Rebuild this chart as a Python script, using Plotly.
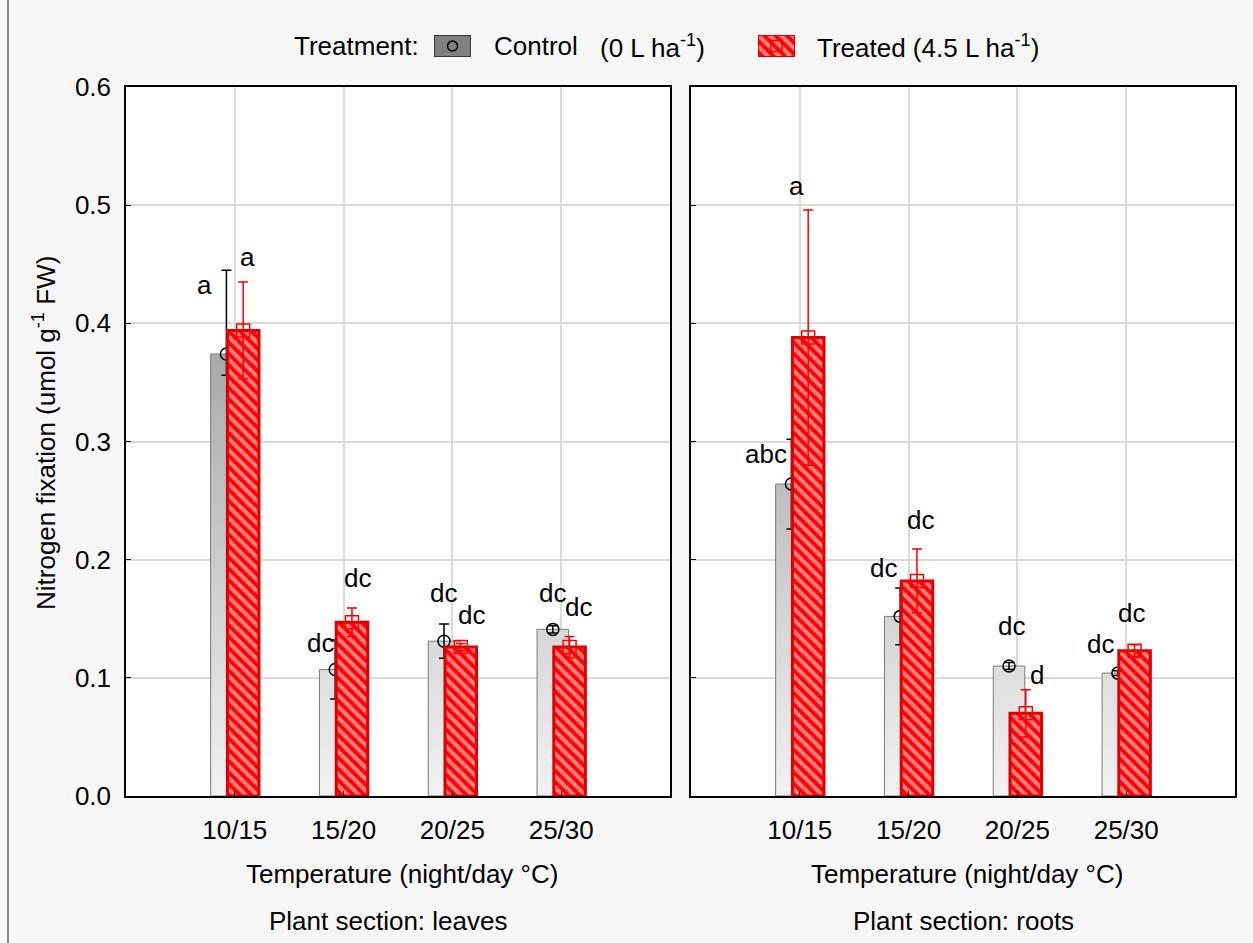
import plotly.graph_objects as go

# ---- data -------------------------------------------------------------
categories = ["10/15", "15/20", "20/25", "25/30"]

leaves_control = [0.374, 0.107, 0.131, 0.141]
leaves_control_err_up = [0.071, 0.025, 0.0145, 0.003]
leaves_control_err_dn = [0.018, 0.025, 0.0145, 0.003]
leaves_treated = [0.394, 0.147, 0.126, 0.126]
leaves_treated_err = [0.041, 0.012, 0.003, 0.009]

roots_control = [0.264, 0.152, 0.110, 0.104]
roots_control_err = [0.038, 0.024, 0.003, 0.002]
roots_treated = [0.388, 0.182, 0.070, 0.123]
roots_treated_err = [0.108, 0.027, 0.020, 0.005]

leaves_control_letters = ["a", "dc", "dc", "dc"]
leaves_treated_letters = ["a", "dc", "dc", "dc"]
roots_control_letters = ["abc", "dc", "dc", "dc"]
roots_treated_letters = ["a", "dc", "d", "dc"]

y_ticks = [0.0, 0.1, 0.2, 0.3, 0.4, 0.5, 0.6]

# ---- layout constants ---------------------------------------------------
W, H = 1253, 943
FONT = "Liberation Sans, Arial, sans-serif"
FS = 26
BAR_HALF = 0.145       # half bar width (category units)
SHIFT = 0.077          # offset of each series from the category centre
RED = "#ff0000"
RED_EDGE = "#dd0000"
HATCH = dict(shape="\\", fgcolor="white", bgcolor=RED, size=8, solidity=0.52)

# pixel nudges for the letter labels (dx, dy), relative to the top of each error bar
leaves_control_lbl = [(-22, -15), (-15, -3), (-1, 31), (0, 33)]
leaves_treated_lbl = [(4, 25), (6, 30), (11, 29), (9, 29)]
roots_control_lbl = [(-25, -15), (-17, 20), (2, 36), (-17, 27)]
roots_treated_lbl = [(-12, 24), (4, 29), (11, 15), (-3, 32)]


def px_x(p):
    return p / W


def px_y(p):
    return 1 - p / H


def bar_outline(centres, heights):
    xs, ys = [], []
    for c, h in zip(centres, heights):
        xs += [c - BAR_HALF, c - BAR_HALF, c + BAR_HALF, c + BAR_HALF, c - BAR_HALF, None]
        ys += [0, h, h, 0, 0, None]
    return xs, ys


pos = list(range(1, len(categories) + 1))
ctrl_x = [p - SHIFT for p in pos]
trt_x = [p + SHIFT for p in pos]

fig = go.Figure()
annotations = []


def add_panel(xa, ya, ctrl, ctrl_up, ctrl_dn, trt, trt_err,
              ctrl_txt, trt_txt, ctrl_lbl, trt_lbl):
    # control bars with a vertical grey gradient
    bx, by = bar_outline(ctrl_x, ctrl)
    fig.add_trace(go.Scatter(
        x=bx, y=by, xaxis=xa, yaxis=ya, mode="lines", fill="toself",
        line=dict(color="#7a7a7a", width=1),
        fillgradient=dict(type="vertical", start=0, stop=0.6,
                          colorscale=[[0, "#f2f2f2"], [1, "#7d7d7d"]]),
        hoverinfo="skip"))
    fig.add_trace(go.Scatter(
        x=ctrl_x, y=ctrl, xaxis=xa, yaxis=ya, mode="markers",
        marker=dict(symbol="circle-open", size=12, color="black",
                    line=dict(width=1.5, color="black")),
        error_y=dict(type="data", symmetric=False, array=ctrl_up,
                     arrayminus=ctrl_dn, color="black", thickness=1.5, width=5)))
    # treated bars with red hatching
    tx, ty = bar_outline(trt_x, trt)
    fig.add_trace(go.Scatter(
        x=tx, y=ty, xaxis=xa, yaxis=ya, mode="lines", fill="toself",
        line=dict(color=RED_EDGE, width=3),
        fillcolor=RED, fillpattern=HATCH,
        hoverinfo="skip"))
    fig.add_trace(go.Scatter(
        x=trt_x, y=trt, xaxis=xa, yaxis=ya, mode="markers",
        marker=dict(symbol="square-open", size=13, color=RED,
                    line=dict(width=1.5, color=RED)),
        error_y=dict(type="data", array=trt_err, color=RED,
                     thickness=1.5, width=5)))

    for i in range(len(categories)):
        annotations.append(dict(
            x=ctrl_x[i], y=ctrl[i] + ctrl_up[i], xref=xa, yref=ya,
            text=ctrl_txt[i], showarrow=False, xanchor="center", yanchor="middle",
            xshift=ctrl_lbl[i][0], yshift=ctrl_lbl[i][1],
            font=dict(family=FONT, size=FS, color="black")))
        annotations.append(dict(
            x=trt_x[i], y=trt[i] + trt_err[i], xref=xa, yref=ya,
            text=trt_txt[i], showarrow=False, xanchor="center", yanchor="middle",
            xshift=trt_lbl[i][0], yshift=trt_lbl[i][1],
            font=dict(family=FONT, size=FS, color="black")))


add_panel("x", "y", leaves_control, leaves_control_err_up, leaves_control_err_dn,
          leaves_treated, leaves_treated_err,
          leaves_control_letters, leaves_treated_letters,
          leaves_control_lbl, leaves_treated_lbl)
add_panel("x2", "y2", roots_control, roots_control_err, roots_control_err,
          roots_treated, roots_treated_err,
          roots_control_letters, roots_treated_letters,
          roots_control_lbl, roots_treated_lbl)

# ---- legend keys, drawn on two small hidden axes --------------------------
key_x = [0, 0, 1, 1, 0]
key_y = [0, 1, 1, 0, 0]
fig.add_trace(go.Scatter(
    x=key_x, y=key_y, xaxis="x3", yaxis="y3", mode="lines", fill="toself",
    fillcolor="#808080", line=dict(color="#3a3a3a", width=2), hoverinfo="skip"))
fig.add_trace(go.Scatter(
    x=[0.5], y=[0.5], xaxis="x3", yaxis="y3", mode="markers",
    marker=dict(symbol="circle-open", size=10, color="black",
                line=dict(width=1.5, color="black")), hoverinfo="skip"))
fig.add_trace(go.Scatter(
    x=key_x, y=key_y, xaxis="x4", yaxis="y4", mode="lines", fill="toself",
    fillcolor=RED, line=dict(color=RED_EDGE, width=2), fillpattern=HATCH,
    hoverinfo="skip"))
fig.add_trace(go.Scatter(
    x=[0.5], y=[0.5], xaxis="x4", yaxis="y4", mode="markers",
    marker=dict(symbol="square-open", size=11, color=RED,
                line=dict(width=1.5, color=RED)), hoverinfo="skip"))

# ---- axes ---------------------------------------------------------------
plot_dom_y = [px_y(796), px_y(87)]
common_x = dict(range=[0, 5], tickvals=pos, ticktext=categories,
                showgrid=True, gridcolor="#dadada", gridwidth=1.5,
                ticks="inside", ticklen=5, tickcolor="black", tickwidth=1.2,
                showline=True, mirror=True, linecolor="black", linewidth=1.5,
                zeroline=False, automargin=False, ticklabelstandoff=10,
                tickfont=dict(family=FONT, size=FS, color="black"))
common_y = dict(range=[0, 0.6], tickvals=y_ticks, tickformat=".1f",
                showgrid=True, gridcolor="#dadada", gridwidth=1.5,
                ticks="inside", ticklen=5, tickcolor="black", tickwidth=1.2,
                showline=True, mirror=True, linecolor="black", linewidth=1.5,
                zeroline=False, automargin=False, domain=plot_dom_y,
                tickfont=dict(family=FONT, size=FS, color="black"))

hidden = dict(visible=False, range=[0, 1], fixedrange=True, automargin=False)

fig.update_layout(
    width=W, height=H, autosize=False,
    margin=dict(l=0, r=0, t=0, b=0, pad=0, autoexpand=False),
    paper_bgcolor="#f7f7f7", plot_bgcolor="white",
    showlegend=False,
    font=dict(family=FONT, size=FS, color="black"),
    xaxis=dict(common_x, domain=[px_x(126), px_x(670)], anchor="y"),
    yaxis=dict(common_y, anchor="x", ticklabelstandoff=8),
    xaxis2=dict(common_x, domain=[px_x(691), px_x(1235)], anchor="y2"),
    yaxis2=dict(common_y, anchor="x2", showticklabels=False),
    xaxis3=dict(hidden, domain=[px_x(434), px_x(471)], anchor="y3"),
    yaxis3=dict(hidden, domain=[px_y(57), px_y(35)], anchor="x3"),
    xaxis4=dict(hidden, domain=[px_x(758), px_x(795)], anchor="y4"),
    yaxis4=dict(hidden, domain=[px_y(57), px_y(35)], anchor="x4"),
)

# ---- text ---------------------------------------------------------------
def paper_text(text, x, y, anchor="center", angle=0):
    annotations.append(dict(
        x=px_x(x), y=px_y(y), xref="paper", yref="paper", text=text,
        showarrow=False, xanchor=anchor, yanchor="middle", textangle=angle,
        font=dict(family=FONT, size=FS, color="black")))


paper_text("Nitrogen fixation (umol g<sup>-1</sup> FW)", 45, 433, angle=-90)
paper_text("Temperature (night/day °C)", 402, 874)
paper_text("Temperature (night/day °C)", 967, 874)
paper_text("Plant section: leaves", 388, 921)
paper_text("Plant section: roots", 963, 921)
paper_text("Treatment:", 292, 46, anchor="left")
paper_text("Control", 492, 46, anchor="left")
paper_text("(0 L ha<sup>-1</sup>)", 598, 46, anchor="left")
paper_text("Treated (4.5 L ha<sup>-1</sup>)", 815, 46, anchor="left")

fig.update_layout(
    annotations=annotations,
    shapes=[dict(type="line", xref="paper", yref="paper",
                 x0=px_x(8), x1=px_x(8), y0=0, y1=1,
                 line=dict(color="#8c8c8c", width=2))],
)

fig.write_html("out.html")
